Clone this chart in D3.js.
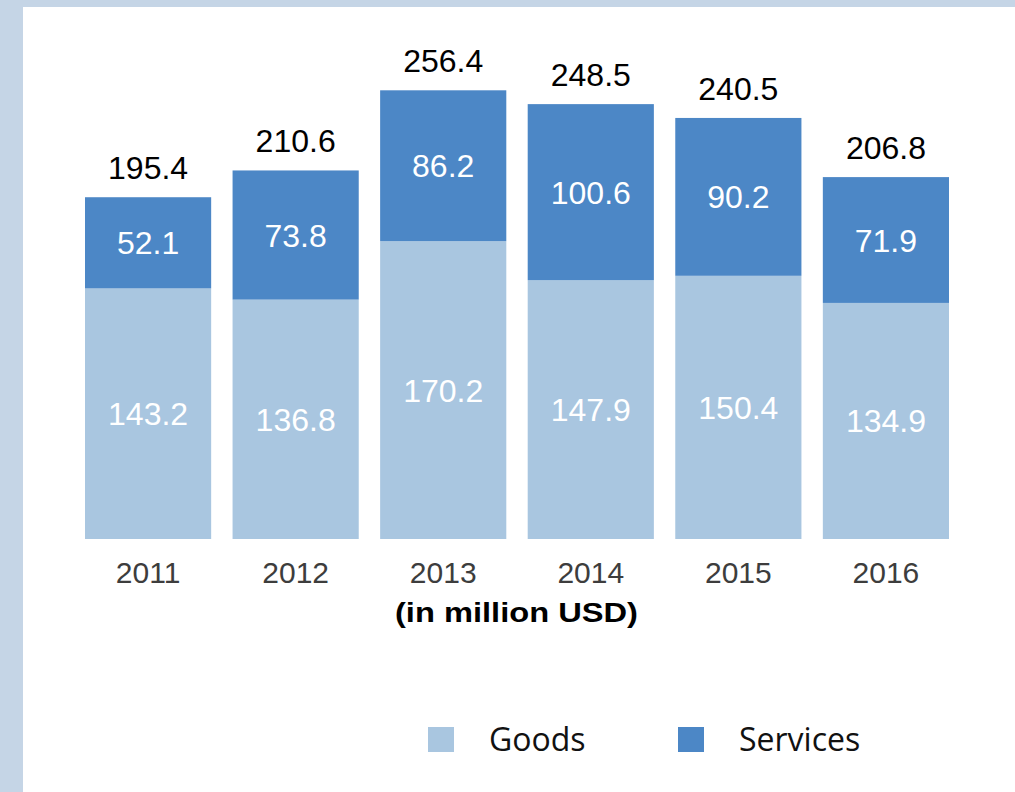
<!DOCTYPE html>
<html>
<head>
<meta http-equiv='Content-Type' content='text/html; charset=UTF-8'/>
<script src="https://d3js.org/d3.v7.min.js"></script>
<style>
    body {
        margin: 0;
        background-color: white;
    }
    svg {
        display: block;
    }
    .num {
        font-family: "Liberation Sans", Arial, sans-serif;
        font-size: 32px;
        text-anchor: middle;
    }
    .year {
        font-family: "Liberation Sans", Arial, sans-serif;
        font-size: 30px;
        fill: #3d3d3d;
        text-anchor: middle;
    }
    .legend-text {
        font-family: "Open Sans", sans-serif;
        font-size: 32px;
        fill: #111;
    }
</style>
</head>
<body>

<svg id="main" width="1015" height="792"></svg>

<script>
    // chart data
    var years = ['2011', '2012', '2013', '2014', '2015', '2016'];
    var goods = [143.2, 136.8, 170.2, 147.9, 150.4, 134.9];
    var services = [52.1, 73.8, 86.2, 100.6, 90.2, 71.9];
    var totals = [195.4, 210.6, 256.4, 248.5, 240.5, 206.8];
    var seriesNames = ['Goods', 'Services'];
    var unitLabel = '(in million USD)';

    var colors = {Goods: '#a9c6e0', Services: '#4c87c6'};

    var svg = d3.select('#main');

    // frame strips on left and top
    svg.append('rect').attr('x', 0).attr('y', 0).attr('width', 1015).attr('height', 7).style('fill', '#c5d5e6');
    svg.append('rect').attr('x', 0).attr('y', 0).attr('width', 23).attr('height', 792).style('fill', '#c5d5e6');

    var x = d3.scaleBand()
        .domain(years)
        .range([85, 949])
        .paddingInner(0.145)
        .paddingOuter(0);

    var y = d3.scaleLinear()
        .domain([0, 300])
        .range([539, 539 - 300 * 1.75]);

    var rows = years.map(function(yr, i) {
        return {year: yr, Goods: goods[i], Services: services[i], total: totals[i]};
    });

    var stacked = d3.stack().keys(seriesNames)(rows);

    // bars
    var layers = svg.selectAll('g.layer')
        .data(stacked)
        .enter().append('g')
        .attr('class', 'layer')
        .style('fill', function(d) { return colors[d.key]; });

    layers.selectAll('rect')
        .data(function(d) { return d; })
        .enter().append('rect')
        .attr('x', function(d) { return x(d.data.year); })
        .attr('y', function(d) { return y(d[1]); })
        .attr('width', x.bandwidth())
        .attr('height', function(d) { return y(d[0]) - y(d[1]); });

    // values inside the segments
    layers.selectAll('text')
        .data(function(d) { return d.map(function(p) { return {p: p, key: d.key}; }); })
        .enter().append('text')
        .attr('class', 'num')
        .attr('x', function(d) { return x(d.p.data.year) + x.bandwidth() / 2; })
        .attr('y', function(d) { return (y(d.p[0]) + y(d.p[1])) / 2 + 11.5; })
        .style('fill', 'white')
        .text(function(d) { return d.p.data[d.key].toFixed(1); });

    // totals above the bars
    svg.selectAll('text.total')
        .data(rows)
        .enter().append('text')
        .attr('class', 'num total')
        .attr('x', function(d) { return x(d.year) + x.bandwidth() / 2; })
        .attr('y', function(d) { return y(d.total) - 18; })
        .style('fill', '#000')
        .text(function(d) { return d.total.toFixed(1); });

    // year labels
    svg.selectAll('text.year')
        .data(years)
        .enter().append('text')
        .attr('class', 'year')
        .attr('x', function(d) { return x(d) + x.bandwidth() / 2; })
        .attr('y', 583)
        .text(function(d) { return d; });

    svg.append('text')
        .attr('x', 516.5)
        .attr('y', 622)
        .attr('textLength', 243)
        .attr('lengthAdjust', 'spacingAndGlyphs')
        .style('font-family', '"Liberation Sans", Arial, sans-serif')
        .style('font-weight', 'bold')
        .style('font-size', '28px')
        .style('text-anchor', 'middle')
        .style('fill', '#000')
        .text(unitLabel);

    // legend
    var legendX = [428, 678];
    var legend = svg.selectAll('g.legend')
        .data(seriesNames)
        .enter().append('g')
        .attr('class', 'legend')
        .attr('transform', function(d, i) { return 'translate(' + legendX[i] + ',727)'; });

    legend.append('rect')
        .attr('width', 26)
        .attr('height', 25)
        .style('fill', function(d) { return colors[d]; });

    legend.append('text')
        .attr('class', 'legend-text')
        .attr('x', 61)
        .attr('y', 24)
        .text(function(d) { return d; });
</script>

</body>
</html>
